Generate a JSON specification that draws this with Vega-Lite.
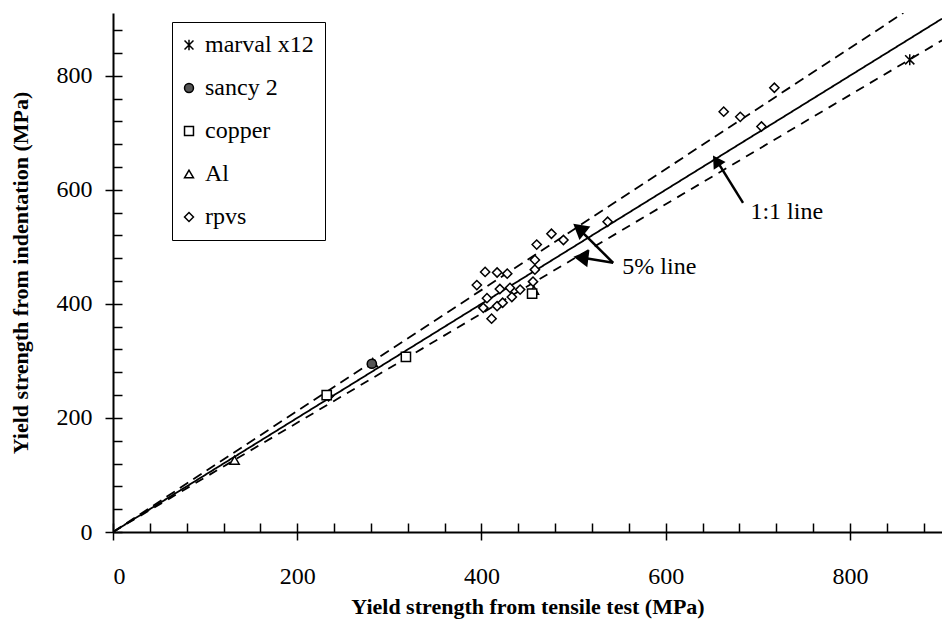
{
  "$schema": "https://vega.github.io/schema/vega-lite/v6.json",
  "width": 829,
  "height": 519,
  "autosize": {"type": "none"},
  "padding": {"left": 113, "top": 13, "right": 0, "bottom": 97},
  "background": "white",
  "config": {
    "view": {"stroke": null},
    "font": "Liberation Serif, DejaVu Serif, serif",
    "axis": {"labelFont": "Liberation Serif, DejaVu Serif, serif", "titleFont": "Liberation Serif, DejaVu Serif, serif", "labelColor": "black", "titleColor": "black", "domainColor": "black", "tickColor": "black", "grid": false},
    "legend": {"labelFont": "Liberation Serif, DejaVu Serif, serif"},
    "text": {"font": "Liberation Serif, DejaVu Serif, serif"}
  },
  "datasets": {
    "lines": [
      {"line": "1:1", "ts": 0, "ind": 0},
      {"line": "1:1", "ts": 900, "ind": 900},
      {"line": "upper", "ts": 0, "ind": 0},
      {"line": "upper", "ts": 858, "ind": 910},
      {"line": "lower", "ts": 0, "ind": 0},
      {"line": "lower", "ts": 900, "ind": 862}
    ],
    "points": [
      {"material": "rpvs", "ts": 663, "ind": 737},
      {"material": "rpvs", "ts": 681, "ind": 728},
      {"material": "rpvs", "ts": 718, "ind": 779},
      {"material": "rpvs", "ts": 704, "ind": 711},
      {"material": "rpvs", "ts": 537, "ind": 544},
      {"material": "rpvs", "ts": 476, "ind": 523},
      {"material": "rpvs", "ts": 489, "ind": 512},
      {"material": "rpvs", "ts": 460, "ind": 504},
      {"material": "rpvs", "ts": 458, "ind": 477},
      {"material": "rpvs", "ts": 404, "ind": 456},
      {"material": "rpvs", "ts": 417, "ind": 455},
      {"material": "rpvs", "ts": 428, "ind": 453},
      {"material": "rpvs", "ts": 395, "ind": 433},
      {"material": "rpvs", "ts": 420, "ind": 426},
      {"material": "rpvs", "ts": 431, "ind": 428},
      {"material": "rpvs", "ts": 442, "ind": 425},
      {"material": "rpvs", "ts": 456, "ind": 439},
      {"material": "rpvs", "ts": 458, "ind": 460},
      {"material": "rpvs", "ts": 406, "ind": 410},
      {"material": "rpvs", "ts": 417, "ind": 396},
      {"material": "rpvs", "ts": 423, "ind": 402},
      {"material": "rpvs", "ts": 433, "ind": 412},
      {"material": "rpvs", "ts": 402, "ind": 393},
      {"material": "rpvs", "ts": 411, "ind": 374},
      {"material": "rpvs", "ts": 234, "ind": 238},
      {"material": "Al", "ts": 132, "ind": 126},
      {"material": "Al", "ts": 282, "ind": 297},
      {"material": "Al", "ts": 457, "ind": 424},
      {"material": "copper", "ts": 232, "ind": 240},
      {"material": "copper", "ts": 318, "ind": 307},
      {"material": "copper", "ts": 455, "ind": 418},
      {"material": "sancy 2", "ts": 281, "ind": 295},
      {"material": "marval x12", "ts": 865, "ind": 828}
    ],
    "notes": [
      {"label": "1:1 line", "ts": 692, "ind": 561},
      {"label": "5% line", "ts": 553, "ind": 465}
    ],
    "arrows": [
      {"arrow": "a11", "ts": 684, "ind": 577, "ts2": 656, "ind2": 650},
      {"arrow": "a5u", "ts": 543, "ind": 472, "ts2": 508, "ind2": 528},
      {"arrow": "a5l", "ts": 543, "ind": 472, "ts2": 510, "ind2": 481}
    ],
    "heads": [
      {"arrow": "a11", "ts": 655, "ind": 651},
      {"arrow": "a5u", "ts": 506, "ind": 532},
      {"arrow": "a5l", "ts": 508, "ind": 481}
    ]
  },
  "layer": [
    {
      "data": {"name": "lines"},
      "mark": {"type": "line", "color": "black", "strokeWidth": 1.8, "clip": true},
      "encoding": {
        "x": {"field": "ts", "type": "quantitative", "scale": {"domain": [0, 900], "nice": false},
          "axis": {"orient": "bottom", "values": [0,40,80,120,160,200,240,280,320,360,400,440,480,520,560,600,640,680,720,760,800,840,880], "tickSize": -9, "tickWidth": 1.5, "domainWidth": 2, "labels": false, "title": null}},
        "y": {"field": "ind", "type": "quantitative", "scale": {"domain": [0, 910], "nice": false},
          "axis": {"orient": "left", "values": [0,40,80,120,160,200,240,280,320,360,400,440,480,520,560,600,640,680,720,760,800,840,880], "tickSize": -9, "tickWidth": 1.5, "domainWidth": 2, "labels": false, "title": null}},
        "detail": {"field": "line"},
        "strokeDash": {"field": "line", "type": "nominal", "scale": {"domain": ["1:1", "upper", "lower"], "range": [[1, 0], [10, 6], [9, 7]]}, "legend": null}
      }
    },
    {
      "data": {"name": "arrows"},
      "mark": {"type": "rule", "color": "black", "strokeWidth": 2.5},
      "encoding": {
        "x": {"field": "ts", "type": "quantitative", "axis": null},
        "y": {"field": "ind", "type": "quantitative", "axis": null},
        "x2": {"field": "ts2"},
        "y2": {"field": "ind2"}
      }
    },
    {
      "data": {"name": "heads"},
      "transform": [{"filter": "datum.arrow == 'a11'"}],
      "mark": {"type": "point", "shape": "triangle-up", "filled": true, "color": "black", "opacity": 1, "size": 200, "angle": 327},
      "encoding": {
        "x": {"field": "ts", "type": "quantitative", "axis": null},
        "y": {"field": "ind", "type": "quantitative", "axis": null}
      }
    },
    {
      "data": {"name": "heads"},
      "transform": [{"filter": "datum.arrow == 'a5u'"}],
      "mark": {"type": "point", "shape": "triangle-up", "filled": true, "color": "black", "opacity": 1, "size": 300, "angle": 309},
      "encoding": {
        "x": {"field": "ts", "type": "quantitative", "axis": null},
        "y": {"field": "ind", "type": "quantitative", "axis": null}
      }
    },
    {
      "data": {"name": "heads"},
      "transform": [{"filter": "datum.arrow == 'a5l'"}],
      "mark": {"type": "point", "shape": "triangle-up", "filled": true, "color": "black", "opacity": 1, "size": 300, "angle": 277},
      "encoding": {
        "x": {"field": "ts", "type": "quantitative", "axis": null},
        "y": {"field": "ind", "type": "quantitative", "axis": null}
      }
    },
    {
      "data": {"name": "notes"},
      "mark": {"type": "text", "align": "left", "baseline": "middle", "font": "Liberation Serif, DejaVu Serif, serif", "fontSize": 24, "color": "black"},
      "encoding": {
        "x": {"field": "ts", "type": "quantitative", "axis": null},
        "y": {"field": "ind", "type": "quantitative", "axis": null},
        "text": {"field": "label"}
      }
    },
    {
      "data": {"name": "points"},
      "mark": {"type": "point", "stroke": "black", "strokeWidth": 1.5, "opacity": 1, "size": 85},
      "encoding": {
        "x": {"field": "ts", "type": "quantitative",
          "axis": {"orient": "bottom", "values": [0, 200, 400, 600, 800], "tickSize": 8, "tickWidth": 1.5, "domain": false, "labelFontSize": 24, "labelPadding": 24, "title": "Yield strength from tensile test (MPa)", "titleFontSize": 22, "titleFontWeight": "bold", "titlePadding": 8}},
        "y": {"field": "ind", "type": "quantitative",
          "axis": {"orient": "left", "values": [0, 200, 400, 600, 800], "tickSize": 8, "tickWidth": 1.5, "domain": false, "labelFontSize": 24, "labelPadding": 13, "title": "Yield strength from indentation (MPa)", "titleFontSize": 22, "titleFontWeight": "bold", "titlePadding": 24}},
        "shape": {"field": "material", "type": "nominal",
          "scale": {"domain": ["marval x12", "sancy 2", "copper", "Al", "rpvs"], "range": ["M-1,-1L1,1M-1,1L1,-1M0,-1.2L0,1.2", "circle", "square", "triangle-up", "diamond"]},
          "legend": {"orient": "none", "legendX": 59, "legendY": 9, "title": null, "strokeColor": "black", "padding": 11, "labelFontSize": 24, "labelColor": "black", "rowPadding": 19, "symbolSize": 80, "symbolStrokeWidth": 1.5, "symbolOffset": -6, "labelOffset": 4,
            "encode": {"symbols": {"update": {"stroke": {"value": "black"}, "strokeWidth": {"value": 1.5}}}}}},
        "fill": {"field": "material", "type": "nominal",
          "scale": {"domain": ["marval x12", "sancy 2", "copper", "Al", "rpvs"], "range": ["white", "#555555", "white", "white", "white"]},
          "legend": {"orient": "none", "legendX": 59, "legendY": 9, "title": null, "strokeColor": "black", "padding": 11, "labelFontSize": 24, "labelColor": "black", "rowPadding": 19, "symbolSize": 80, "symbolStrokeWidth": 1.5, "symbolOffset": -6, "labelOffset": 4,
            "encode": {"symbols": {"update": {"stroke": {"value": "black"}, "strokeWidth": {"value": 1.5}}}}}}
      }
    }
  ],
  "resolve": {"axis": {"x": "independent", "y": "independent"}}
}
